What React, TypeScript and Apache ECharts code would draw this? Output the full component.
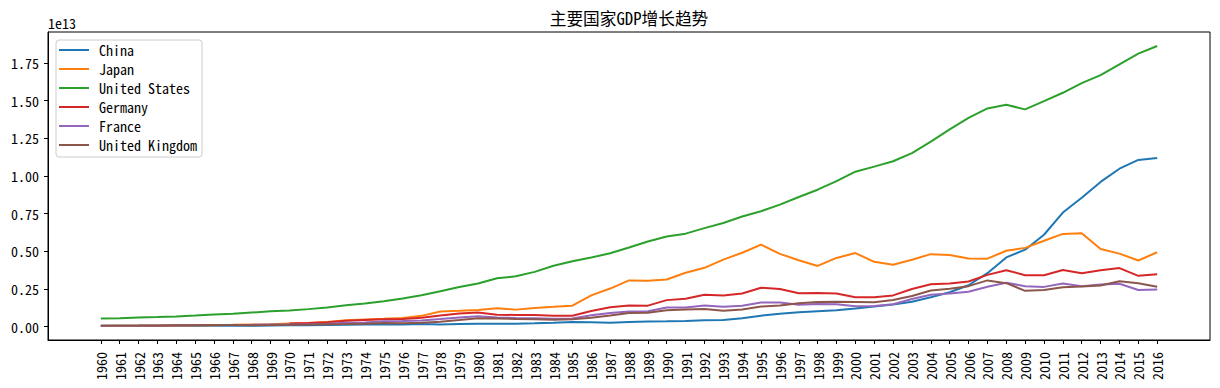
import React, { useEffect, useRef } from "react";
import * as echarts from "echarts";

// GDP, current US$, in trillions (1e12)
const years: number[] = [];
for (let y = 1960; y <= 2016; y++) years.push(y);

const china = [0.05972, 0.05006, 0.04721, 0.05071, 0.05971, 0.07044, 0.07672, 0.07288, 0.07072, 0.07972,
  0.0926, 0.09956, 0.11316, 0.13854, 0.14433, 0.1634, 0.15394, 0.17435, 0.14954, 0.17835,
  0.1911, 0.19589, 0.20509, 0.23031, 0.25989, 0.30949, 0.30067, 0.27237, 0.31235, 0.34798,
  0.36088, 0.3834, 0.42648, 0.44473, 0.56427, 0.73454, 0.86385, 0.96199, 1.0291, 1.094,
  1.2113, 1.3394, 1.4706, 1.6603, 1.9553, 2.286, 2.7521, 3.5522, 4.5982, 5.11,
  6.1006, 7.5725, 8.5605, 9.6072, 10.482, 11.065, 11.199];
const japan = [0.04431, 0.05351, 0.06072, 0.06949, 0.08175, 0.09095, 0.10563, 0.1237, 0.14694, 0.172,
  0.21259, 0.24005, 0.31814, 0.43248, 0.47941, 0.52164, 0.58516, 0.72183, 1.0135, 1.0551,
  1.1053, 1.2189, 1.1347, 1.2434, 1.3183, 1.3988, 2.0785, 2.5327, 3.0719, 3.0542,
  3.1328, 3.5845, 3.9088, 4.4545, 4.907, 5.4492, 4.8335, 4.4143, 4.0325, 4.5624,
  4.8875, 4.3035, 4.115, 4.4457, 4.8151, 4.7554, 4.5303, 4.5153, 5.0379, 5.2313,
  5.7001, 6.1575, 6.2032, 5.1557, 4.8505, 4.3948, 4.9394];
const unitedStates = [0.5433, 0.5633, 0.6051, 0.6386, 0.6858, 0.7437, 0.815, 0.8617, 0.9425, 1.0199,
  1.0759, 1.1679, 1.2824, 1.4285, 1.5488, 1.6889, 1.8776, 2.0861, 2.3566, 2.6321,
  2.8625, 3.211, 3.345, 3.6381, 4.0407, 4.3467, 4.5901, 4.8703, 5.2526, 5.6575,
  5.9796, 6.1741, 6.5393, 6.8787, 7.3087, 7.664, 8.1002, 8.6085, 9.0891, 9.6606,
  10.285, 10.622, 10.978, 11.511, 12.275, 13.094, 13.856, 14.478, 14.719, 14.419,
  14.964, 15.518, 16.155, 16.692, 17.41, 18.12, 18.624];
const germany = [null, null, null, null, null, null, null, null, null, null,
  0.21557, 0.24931, 0.29967, 0.39846, 0.44574, 0.48863, 0.51961, 0.60024, 0.74026, 0.88183,
  0.95009, 0.80098, 0.77658, 0.77065, 0.72536, 0.73254, 1.0465, 1.2969, 1.4016, 1.3988,
  1.7649, 1.8618, 2.1231, 2.0686, 2.2057, 2.591, 2.5036, 2.2186, 2.2431, 2.1999,
  1.9496, 1.9509, 2.0791, 2.5057, 2.819, 2.8614, 3.0027, 3.4396, 3.7521, 3.418,
  3.4171, 3.7576, 3.5439, 3.7525, 3.89, 3.3758, 3.4778];
const france = [0.06222, 0.06785, 0.07568, 0.08464, 0.09441, 0.10161, 0.11011, 0.11885, 0.12938, 0.1412,
  0.14841, 0.16557, 0.20318, 0.26498, 0.28646, 0.36062, 0.37288, 0.41023, 0.50652, 0.61334,
  0.70114, 0.61538, 0.58447, 0.55911, 0.5308, 0.55323, 0.76519, 0.91862, 1.0132, 1.0255,
  1.2691, 1.2692, 1.4015, 1.3228, 1.3935, 1.6011, 1.6055, 1.4522, 1.5031, 1.4925,
  1.3621, 1.3761, 1.4941, 1.8404, 2.1159, 2.1965, 2.3182, 2.6574, 2.9185, 2.6901,
  2.6429, 2.8616, 2.6812, 2.8081, 2.8496, 2.4339, 2.4655];
const unitedKingdom = [0.07233, 0.07669, 0.0806, 0.08545, 0.09338, 0.1006, 0.10747, 0.11147, 0.1046, 0.11267,
  0.12469, 0.14106, 0.16184, 0.18328, 0.2061, 0.24171, 0.23246, 0.26424, 0.33565, 0.4387,
  0.56438, 0.54038, 0.51507, 0.48931, 0.46178, 0.48933, 0.60144, 0.74527, 0.91012, 0.9266,
  1.0932, 1.1427, 1.1795, 1.0612, 1.1404, 1.3352, 1.4091, 1.5529, 1.6404, 1.6649,
  1.6484, 1.6202, 1.7727, 2.0385, 2.405, 2.5201, 2.6925, 3.0741, 2.8908, 2.3829,
  2.4413, 2.6193, 2.6624, 2.7394, 3.0222, 2.8859, 2.6479];

const seriesNames = ["China", "Japan", "United States", "Germany", "France", "United Kingdom"];
const seriesValues = [china, japan, unitedStates, germany, france, unitedKingdom];
const colors = ["#1f77b4", "#ff7f0e", "#2ca02c", "#d62728", "#9467bd", "#8c564b"];
const yTicks = [0, 2.5, 5, 7.5, 10, 12.5, 15, 17.5];
const title = "主要国家GDP增长趋势";

const FONT = "'Noto Sans Mono CJK SC', 'Noto Sans CJK SC', 'DejaVu Sans Mono', monospace";

export default function App() {
  const ref = useRef<HTMLDivElement>(null);
  useEffect(() => {
    document.body.style.margin = "0";
    const chart = echarts.init(ref.current!, null, { renderer: "svg" });
    const gridLeft = 48, gridTop = 32, gridRight = 1210, gridBottom = 340;
    chart.setOption({
      animation: false,
      backgroundColor: "#ffffff",
      color: colors,
      textStyle: { fontFamily: FONT },
      grid: {
        left: gridLeft, top: gridTop, width: gridRight - gridLeft, height: gridBottom - gridTop,
        show: true, borderColor: "#000", borderWidth: 1, backgroundColor: "transparent",
      },
      graphic: [
        { type: "text", x: 629, y: 18, style: { text: title, fontSize: 16.7, fontFamily: FONT, fill: "#000", textAlign: "center", textVerticalAlign: "middle" } },
        { type: "text", x: 48, y: 23, style: { text: "1e13", fontSize: 14, fontFamily: FONT, fill: "#000", textAlign: "left", textVerticalAlign: "middle" } },
      ],
      legend: {
        orient: "vertical", left: 56, top: 40,
        padding: [3, 5, 5, 3],
        icon: "rect",
        itemWidth: 30, itemHeight: 2, itemGap: 5,
        backgroundColor: "rgba(255,255,255,0.8)", borderColor: "#cccccc", borderWidth: 1, borderRadius: 3,
        textStyle: { fontSize: 14, color: "#000", fontFamily: FONT, padding: [0, 0, 0, 5] },
        data: seriesNames,
      },
      xAxis: {
        type: "value", min: 1957.2, max: 2018.8,
        splitLine: { show: false },
        axisLine: { onZero: false, lineStyle: { color: "#000" } },
        axisTick: { show: true, length: 4, lineStyle: { color: "#000" }, customValues: years },
        axisLabel: {
          rotate: 90, fontSize: 14, color: "#000", margin: 12, fontFamily: FONT,
          customValues: years, formatter: (v: number) => String(v),
        },
      },
      yAxis: {
        type: "value", min: -0.88, max: 19.55,
        splitLine: { show: false },
        axisLine: { show: true, onZero: false, lineStyle: { color: "#000" } },
        axisTick: { show: true, length: 4, lineStyle: { color: "#000" }, customValues: yTicks },
        axisLabel: {
          fontSize: 14, color: "#000", margin: 9, fontFamily: FONT,
          customValues: yTicks, formatter: (v: number) => (v / 10).toFixed(2),
        },
      },
      series: seriesNames.map((name, i) => ({
        name, type: "line", symbol: "none", showSymbol: false,
        lineStyle: { width: 2, color: colors[i] },
        itemStyle: { color: colors[i] },
        data: years.map((y, j) => [y, seriesValues[i][j]]),
      })),
    });
    return () => chart.dispose();
  }, []);
  return <div ref={ref} style={{ width: 1220, height: 388 }} />;
}
